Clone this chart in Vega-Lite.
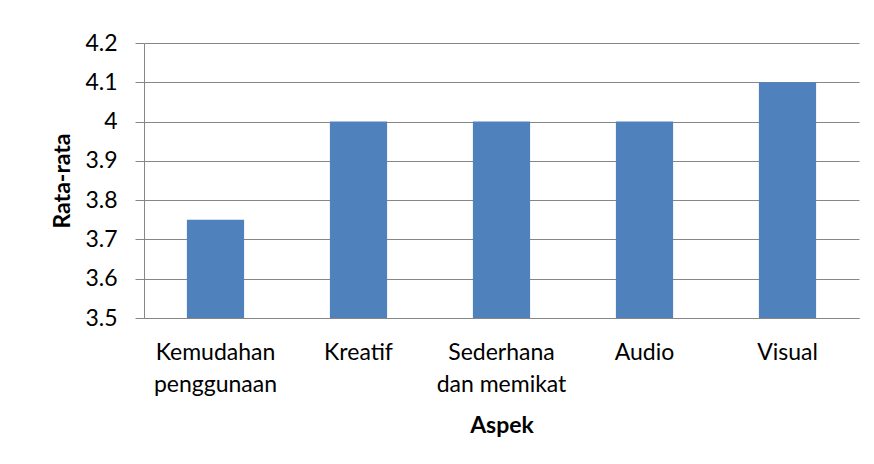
{
  "$schema": "https://vega.github.io/schema/vega-lite/v6.json",
  "autosize": "none",
  "width": 715,
  "height": 275,
  "padding": {"left": 144, "top": 43, "right": 15, "bottom": 146},
  "background": "white",
  "config": {
    "view": {"stroke": null},
    "font": "Lato",
    "axis": {
      "labelFont": "Lato",
      "titleFont": "Lato",
      "labelFontSize": 23,
      "titleFontSize": 23,
      "titleFontWeight": "bold",
      "labelColor": "#000000",
      "titleColor": "#000000",
      "domainColor": "#868686",
      "tickColor": "#868686",
      "gridColor": "#868686"
    }
  },
  "data": {
    "values": [
      {"aspek": "Kemudahan penggunaan", "nilai": 3.75},
      {"aspek": "Kreatif", "nilai": 4.0},
      {"aspek": "Sederhana dan memikat", "nilai": 4.0},
      {"aspek": "Audio", "nilai": 4.0},
      {"aspek": "Visual", "nilai": 4.1}
    ]
  },
  "mark": {"type": "bar", "color": "#4F81BD", "clip": true},
  "encoding": {
    "x": {
      "field": "aspek",
      "type": "nominal",
      "sort": null,
      "title": "Aspek",
      "scale": {"paddingInner": 0.6, "paddingOuter": 0.3},
      "axis": {
        "labelAngle": 0,
        "ticks": false,
        "labelPadding": 23,
        "labelLineHeight": 32,
        "labelBaseline": "top",
        "titlePadding": 18,
        "labelExpr": "datum.label == 'Kemudahan penggunaan' ? ['Kemudahan', 'penggunaan'] : datum.label == 'Sederhana dan memikat' ? ['Sederhana', 'dan memikat'] : datum.label",
        "domainWidth": 1
      }
    },
    "y": {
      "field": "nilai",
      "type": "quantitative",
      "title": "Rata-rata",
      "scale": {"domain": [3.5, 4.2], "zero": false, "nice": false},
      "axis": {
        "values": [3.5, 3.6, 3.7, 3.8, 3.9, 4.0, 4.1, 4.2],
        "format": ".1~f",
        "tickSize": 9,
        "labelPadding": 18,
        "titlePadding": 10,
        "grid": true,
        "gridWidth": 1,
        "domainWidth": 1
      }
    }
  }
}
